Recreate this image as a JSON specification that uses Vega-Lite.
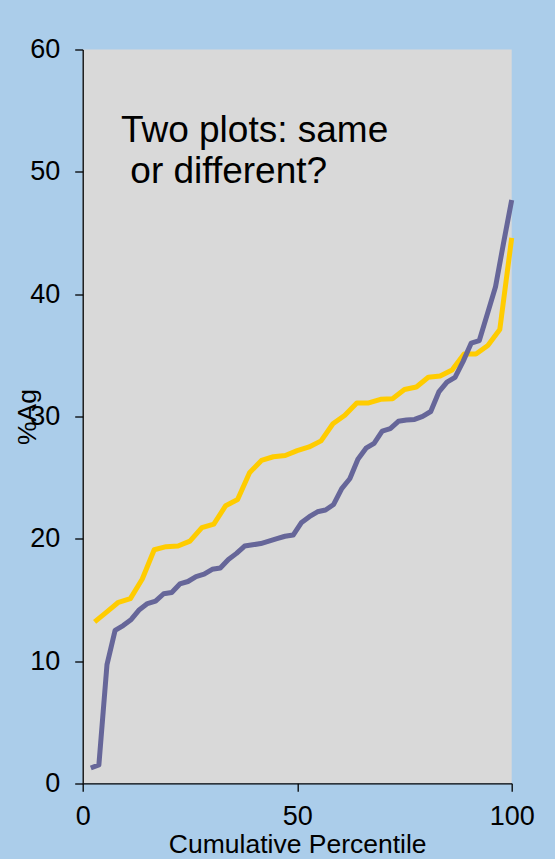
{
  "$schema": "https://vega.github.io/schema/vega-lite/v6.json",
  "autosize": {"type": "none"},
  "padding": {"left": 82.7, "top": 49.5, "right": 43.3, "bottom": 75.7},
  "width": 429,
  "height": 733.8,
  "background": "#abcdea",
  "config": {
    "view": {"fill": "#d9d9d9", "stroke": null},
    "font": "Liberation Sans",
    "axis": {"grid": false, "domainColor": "#000000", "domainWidth": 1.3, "tickColor": "#000000", "tickWidth": 1.3, "tickSize": 8, "labelColor": "#000000", "titleColor": "#000000", "labelFont": "Liberation Sans", "titleFont": "Liberation Sans", "titleFontWeight": "normal"}
  },
  "datasets": {
    "lines": [
      {"series": "A", "pct": 2.78, "ag": 13.2},
      {"series": "A", "pct": 5.56, "ag": 14.0},
      {"series": "A", "pct": 8.33, "ag": 14.8},
      {"series": "A", "pct": 11.11, "ag": 15.1},
      {"series": "A", "pct": 13.89, "ag": 16.7},
      {"series": "A", "pct": 16.67, "ag": 19.1},
      {"series": "A", "pct": 19.44, "ag": 19.35},
      {"series": "A", "pct": 22.22, "ag": 19.4},
      {"series": "A", "pct": 25.0, "ag": 19.8},
      {"series": "A", "pct": 27.78, "ag": 20.9},
      {"series": "A", "pct": 30.56, "ag": 21.2},
      {"series": "A", "pct": 33.33, "ag": 22.7},
      {"series": "A", "pct": 36.11, "ag": 23.2},
      {"series": "A", "pct": 38.89, "ag": 25.4},
      {"series": "A", "pct": 41.67, "ag": 26.4},
      {"series": "A", "pct": 44.44, "ag": 26.7},
      {"series": "A", "pct": 47.22, "ag": 26.8},
      {"series": "A", "pct": 50.0, "ag": 27.2},
      {"series": "A", "pct": 52.78, "ag": 27.5},
      {"series": "A", "pct": 55.56, "ag": 28.0},
      {"series": "A", "pct": 58.33, "ag": 29.4},
      {"series": "A", "pct": 61.11, "ag": 30.1},
      {"series": "A", "pct": 63.89, "ag": 31.1},
      {"series": "A", "pct": 66.67, "ag": 31.1},
      {"series": "A", "pct": 69.44, "ag": 31.4},
      {"series": "A", "pct": 72.22, "ag": 31.45},
      {"series": "A", "pct": 75.0, "ag": 32.2},
      {"series": "A", "pct": 77.78, "ag": 32.4},
      {"series": "A", "pct": 80.56, "ag": 33.2},
      {"series": "A", "pct": 83.33, "ag": 33.3},
      {"series": "A", "pct": 86.11, "ag": 33.8},
      {"series": "A", "pct": 88.89, "ag": 35.1},
      {"series": "A", "pct": 91.67, "ag": 35.1},
      {"series": "A", "pct": 94.44, "ag": 35.8},
      {"series": "A", "pct": 97.22, "ag": 37.1},
      {"series": "A", "pct": 100.0, "ag": 44.6},
      {"series": "B", "pct": 1.89, "ag": 1.25},
      {"series": "B", "pct": 3.77, "ag": 1.5},
      {"series": "B", "pct": 5.66, "ag": 9.7},
      {"series": "B", "pct": 7.55, "ag": 12.5},
      {"series": "B", "pct": 9.43, "ag": 12.9},
      {"series": "B", "pct": 11.32, "ag": 13.4},
      {"series": "B", "pct": 13.21, "ag": 14.2},
      {"series": "B", "pct": 15.09, "ag": 14.7},
      {"series": "B", "pct": 16.98, "ag": 14.9},
      {"series": "B", "pct": 18.87, "ag": 15.5},
      {"series": "B", "pct": 20.75, "ag": 15.6},
      {"series": "B", "pct": 22.64, "ag": 16.3},
      {"series": "B", "pct": 24.53, "ag": 16.5},
      {"series": "B", "pct": 26.42, "ag": 16.9},
      {"series": "B", "pct": 28.3, "ag": 17.1},
      {"series": "B", "pct": 30.19, "ag": 17.5},
      {"series": "B", "pct": 32.08, "ag": 17.6},
      {"series": "B", "pct": 33.96, "ag": 18.3},
      {"series": "B", "pct": 35.85, "ag": 18.8},
      {"series": "B", "pct": 37.74, "ag": 19.4},
      {"series": "B", "pct": 39.62, "ag": 19.5},
      {"series": "B", "pct": 41.51, "ag": 19.6},
      {"series": "B", "pct": 43.4, "ag": 19.8},
      {"series": "B", "pct": 45.28, "ag": 20.0},
      {"series": "B", "pct": 47.17, "ag": 20.2},
      {"series": "B", "pct": 49.06, "ag": 20.3},
      {"series": "B", "pct": 50.94, "ag": 21.3},
      {"series": "B", "pct": 52.83, "ag": 21.8},
      {"series": "B", "pct": 54.72, "ag": 22.2},
      {"series": "B", "pct": 56.6, "ag": 22.35},
      {"series": "B", "pct": 58.49, "ag": 22.8},
      {"series": "B", "pct": 60.38, "ag": 24.1},
      {"series": "B", "pct": 62.26, "ag": 24.9},
      {"series": "B", "pct": 64.15, "ag": 26.5},
      {"series": "B", "pct": 66.04, "ag": 27.4},
      {"series": "B", "pct": 67.92, "ag": 27.8},
      {"series": "B", "pct": 69.81, "ag": 28.8},
      {"series": "B", "pct": 71.7, "ag": 29.0},
      {"series": "B", "pct": 73.58, "ag": 29.6},
      {"series": "B", "pct": 75.47, "ag": 29.7},
      {"series": "B", "pct": 77.36, "ag": 29.75},
      {"series": "B", "pct": 79.25, "ag": 30.0},
      {"series": "B", "pct": 81.13, "ag": 30.4},
      {"series": "B", "pct": 83.02, "ag": 32.0},
      {"series": "B", "pct": 84.91, "ag": 32.8},
      {"series": "B", "pct": 86.79, "ag": 33.2},
      {"series": "B", "pct": 88.68, "ag": 34.5},
      {"series": "B", "pct": 90.57, "ag": 36.0},
      {"series": "B", "pct": 92.45, "ag": 36.2},
      {"series": "B", "pct": 94.34, "ag": 38.4},
      {"series": "B", "pct": 96.23, "ag": 40.6},
      {"series": "B", "pct": 98.11, "ag": 44.2},
      {"series": "B", "pct": 100.0, "ag": 47.7}
    ],
    "notes": [
      {"label": "Two plots: same", "pct": 8.9, "ag": 52.46},
      {"label": "or different?", "pct": 11.1, "ag": 49.06}
    ]
  },
  "layer": [
    {
      "data": {"name": "lines"},
      "mark": {"type": "line", "strokeWidth": 5, "strokeJoin": "round", "strokeCap": "butt", "clip": false},
      "encoding": {
        "x": {"field": "pct", "type": "quantitative", "scale": {"domain": [0, 100], "nice": false, "zero": false},
          "axis": {"values": [0, 50, 100], "title": "Cumulative Percentile", "labelFontSize": 27, "titleFontSize": 26.5, "labelBaseline": "alphabetic", "labelPadding": 32.7, "labelFlush": false, "titleBaseline": "alphabetic", "titleY": 69.4, "titleX": 214.5, "titleAlign": "center"}},
        "y": {"field": "ag", "type": "quantitative", "scale": {"domain": [0, 60], "nice": false},
          "axis": {"values": [0, 10, 20, 30, 40, 50, 60], "title": "%Ag", "labelFontSize": 27, "titleFontSize": 26.5, "labelPadding": 15, "labelFlush": false, "titleAngle": 270, "titleBaseline": "alphabetic", "titleAlign": "center", "titleX": -46.7, "titleY": 367}},
        "color": {"field": "series", "type": "nominal", "scale": {"domain": ["A", "B"], "range": ["#ffcc00", "#666699"]}, "legend": null}
      }
    },
    {
      "data": {"name": "notes"},
      "mark": {"type": "text", "align": "left", "baseline": "alphabetic", "fontSize": 37, "font": "Liberation Sans", "color": "#000000"},
      "encoding": {
        "x": {"field": "pct", "type": "quantitative"},
        "y": {"field": "ag", "type": "quantitative"},
        "text": {"field": "label"}
      }
    }
  ]
}
